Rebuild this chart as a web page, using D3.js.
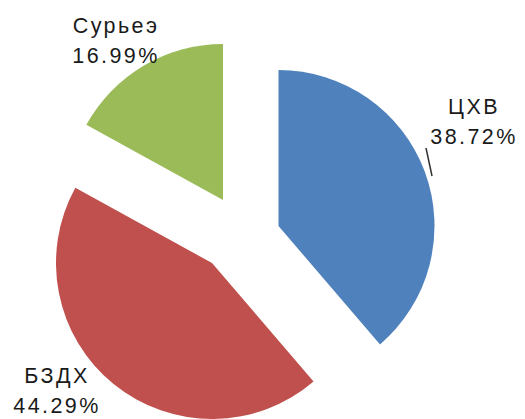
<!DOCTYPE html>
<html>
<head>
<meta charset="utf-8">
<script src="https://cdn.jsdelivr.net/npm/d3@7"></script>
<style>
  html, body { margin: 0; padding: 0; background: #fff; }
  svg { display: block; }
</style>
</head>
<body>
<svg id="chart" width="525" height="419"></svg>
<script>
// ---- data ----
const categories = ["ЦХВ", "БЗДХ", "Сурьеэ"];
const values = [38.72, 44.29, 16.99];
const valueLabels = ["38.72%", "44.29%", "16.99%"];
const colors = ["#4F81BD", "#C0504D", "#9BBB59"];

// ---- layout (not data) ----
const W = 525, H = 419;
const center = [240, 220];
const radius = 156;
// per-slice explode offsets from the pie centre
const explode = [[38.5, 6], [-28, 43], [-17, -20]];
// label anchors: [x centre, first baseline]
const labelPos = [[474, 114], [57, 383], [116, 33]];
const lineGap = 30;

const svg = d3.select("#chart");

const pie = d3.pie().sort(null).value(d => d)
  .startAngle(0).endAngle(2 * Math.PI);
const arcs = pie(values);
const arc = d3.arc().innerRadius(0).outerRadius(radius);

const g = svg.append("g").attr("transform", `translate(${center[0]},${center[1]})`);

g.selectAll("path.slice")
  .data(arcs)
  .join("path")
  .attr("class", "slice")
  .attr("transform", (d, i) => `translate(${explode[i][0]},${explode[i][1]})`)
  .attr("d", arc)
  .attr("fill", (d, i) => colors[i]);

// leader line for the ЦХВ label
svg.append("line")
  .attr("x1", 426).attr("y1", 148)
  .attr("x2", 432).attr("y2", 176)
  .attr("stroke", "#333").attr("stroke-width", 1.5);

const labels = svg.selectAll("text.lbl")
  .data(arcs)
  .join("text")
  .attr("class", "lbl")
  .attr("text-anchor", "middle")
  .attr("font-family", "'Liberation Sans', Arial, sans-serif")
  .attr("font-size", 21.5)
  .attr("letter-spacing", 2.4)
  .attr("fill", "#1a1a1a");

labels.append("tspan")
  .attr("x", (d, i) => labelPos[i][0])
  .attr("y", (d, i) => labelPos[i][1])
  .text((d, i) => categories[i]);
labels.append("tspan")
  .attr("x", (d, i) => labelPos[i][0])
  .attr("y", (d, i) => labelPos[i][1] + lineGap)
  .text((d, i) => valueLabels[i]);
</script>
</body>
</html>
